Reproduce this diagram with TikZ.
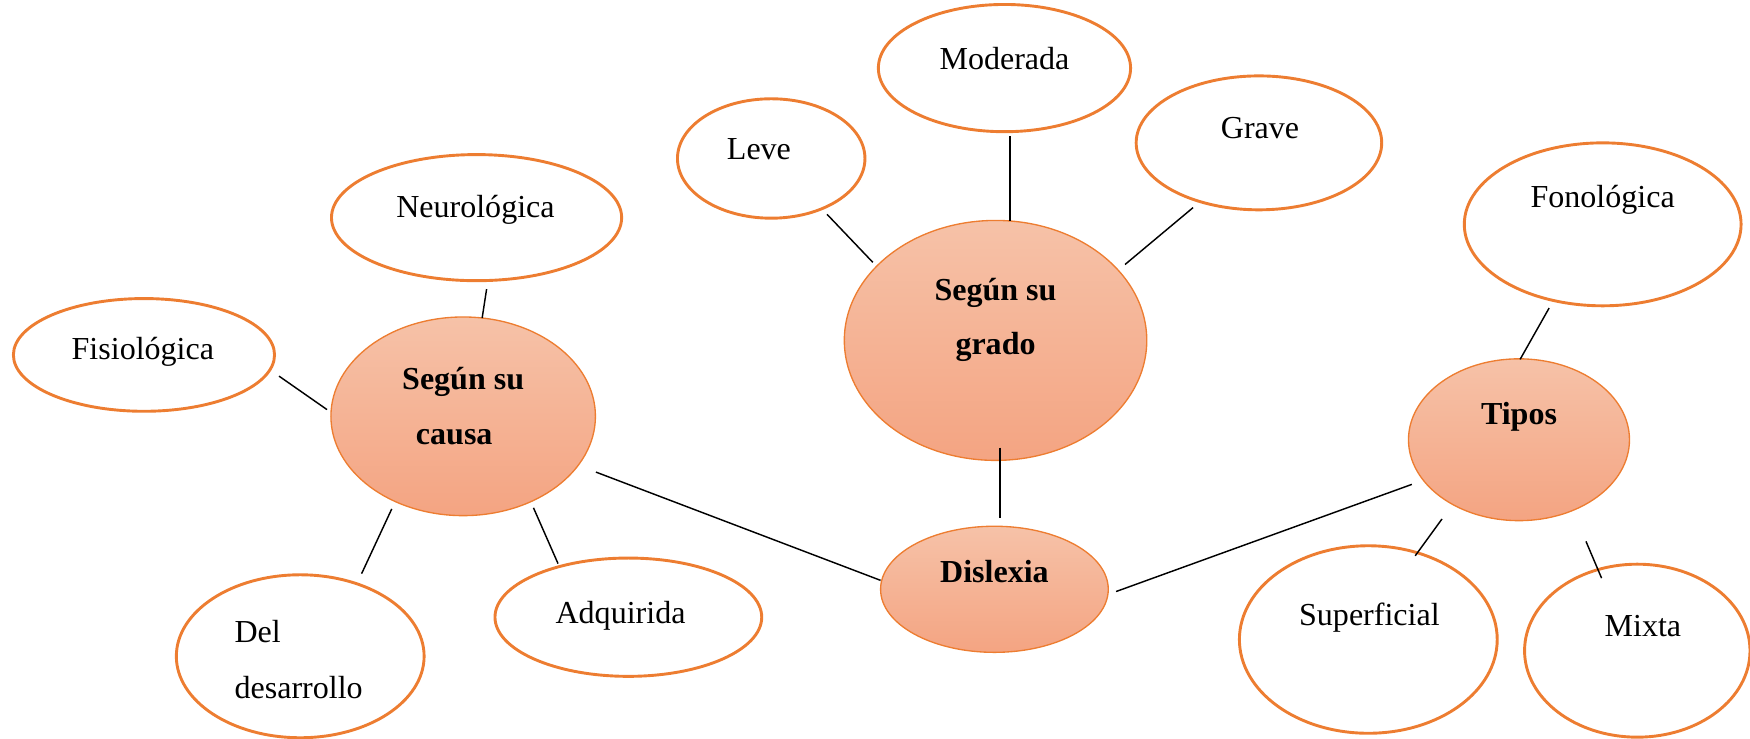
\documentclass[tikz,border=0pt]{standalone}
\usepackage{fontspec}
\setmainfont{Liberation Serif}
\usetikzlibrary{shapes.geometric}
\definecolor{orl}{HTML}{ED7D31}
\definecolor{ftop}{HTML}{F6C2A8}
\definecolor{fbot}{HTML}{F4A482}
\tikzset{
  oval/.style={ellipse,draw=orl,line width=2.6,inner sep=0pt,fill=white},
  hub/.style={ellipse,draw=orl,line width=1.2,inner sep=0pt,top color=ftop,bottom color=fbot},
  txt/.style={anchor=base,inner sep=0pt,font=\fontsize{28.7}{34}\selectfont},
  btxt/.style={txt,font=\fontsize{28.7}{34}\selectfont\bfseries},
  link/.style={draw=black,line width=1.3}
}
\begin{document}
\begin{tikzpicture}[x=1pt,y=-1pt]
\useasboundingbox (0,0) rectangle (1568,662);
% plain ellipses
\node[oval,minimum width=226,minimum height=114] (moderada) at (900,61) {};
\node[oval,minimum width=168,minimum height=107] (leve) at (691,142) {};
\node[oval,minimum width=220,minimum height=120] (grave) at (1128,128) {};
\node[oval,minimum width=260,minimum height=113] (neuro) at (427,195) {};
\node[oval,minimum width=234,minimum height=101] (fisio) at (129,318) {};
\node[oval,minimum width=248,minimum height=146] (fono) at (1436,201) {};
\node[oval,minimum width=222,minimum height=146] (deldes) at (269,588) {};
\node[oval,minimum width=239,minimum height=106] (adq) at (563,553) {};
\node[oval,minimum width=231,minimum height=168] (superf) at (1226,573) {};
\node[oval,minimum width=202,minimum height=155] (mixta) at (1467,583) {};
% filled hubs
\node[hub,minimum width=237,minimum height=178] (causa) at (415,373) {};
\node[hub,minimum width=271,minimum height=215] (grado) at (892,305) {};
\node[hub,minimum width=198,minimum height=145] (tipos) at (1361,394) {};
\node[hub,minimum width=204,minimum height=113] (dislexia) at (891,528) {};
% texts
\node[txt] (tmoderada) at (900,62) {Moderada};
\node[txt] (tleve) at (680,143) {Leve};
\node[txt] (tgrave) at (1129,124) {Grave};
\node[txt] (tneuro) at (426,195) {Neurológica};
\node[txt] (tfisio) at (128,322) {Fisiológica};
\node[txt] (tfono) at (1436,186) {Fonológica};
\node[txt,anchor=base west] (tdel) at (210,576) {Del};
\node[txt,anchor=base west] (tdes) at (210,626) {desarrollo};
\node[txt] (tadq) at (556,559) {Adquirida};
\node[txt] (tsuperf) at (1227,560) {Superficial};
\node[txt] (tmixta) at (1472,570) {Mixta};
\node[btxt] (tcausa1) at (415,349) {Según su};
\node[btxt] (tcausa2) at (407,398) {causa};
\node[btxt] (tgrado1) at (892,269) {Según su};
\node[btxt] (tgrado2) at (892,318) {grado};
\node[btxt] (ttipos) at (1361,380) {Tipos};
\node[btxt] (tdislexia) at (891,522) {Dislexia};
% connector end points
\coordinate (a1) at (741,192); \coordinate (b1) at (782,235);
\coordinate (a2) at (905,122); \coordinate (b2) at (905,198);
\coordinate (a3) at (1069,186); \coordinate (b3) at (1008,237);
\coordinate (a4) at (436,259); \coordinate (b4) at (432,285);
\coordinate (a5) at (250,337); \coordinate (b5) at (293,367);
\coordinate (a6) at (351,456); \coordinate (b6) at (324,514);
\coordinate (a7) at (478,455); \coordinate (b7) at (500,505);
\coordinate (a8) at (534,423); \coordinate (b8) at (789,520);
\coordinate (a9) at (896,401); \coordinate (b9) at (896,464);
\coordinate (a10) at (1000,530); \coordinate (b10) at (1265,434);
\coordinate (a11) at (1388,276); \coordinate (b11) at (1362,322);
\coordinate (a12) at (1292,465); \coordinate (b12) at (1268,498);
\coordinate (a13) at (1421,485); \coordinate (b13) at (1435,518);
\foreach \i in {1,...,13} {\draw[link] (a\i) -- (b\i);}
\end{tikzpicture}
\end{document}
